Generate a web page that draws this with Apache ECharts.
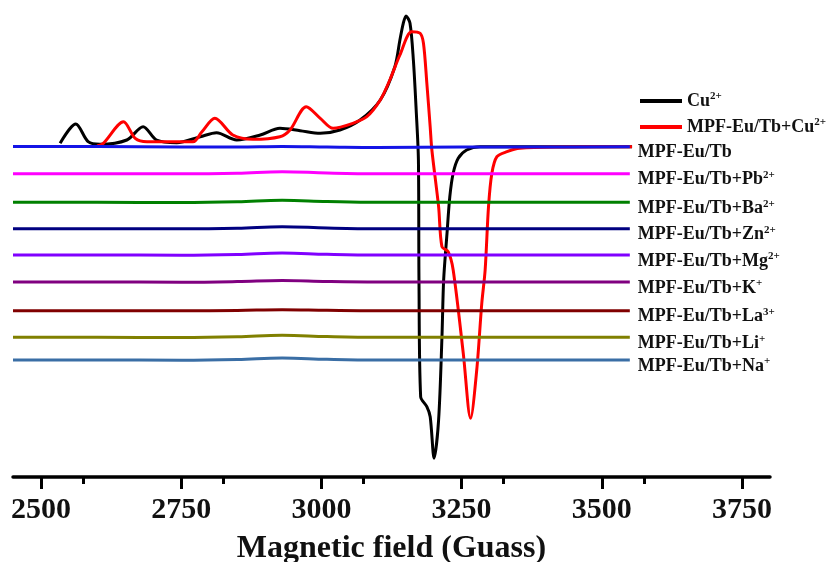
<!DOCTYPE html>
<html>
<head>
<meta charset="utf-8">
<script src="https://cdn.jsdelivr.net/npm/echarts@6/dist/echarts.min.js"></script>
<style>html,body{margin:0;padding:0;background:#fff;}#c{width:829px;height:562px;}</style>
</head>
<body>
<div id="c"></div>
<script>
// ---- Data (x: magnetic field in Gauss, y: stacked EPR intensity, a.u.) ----
var xTicks = [2500, 2750, 3000, 3250, 3500, 3750];

var cuField = [2534, 2562, 2584, 2605, 2653, 2682, 2706, 2742, 2784, 2813, 2849, 2891, 2926, 2962, 2998, 3033, 3069, 3105, 3131, 3140, 3146, 3151, 3158, 3164, 3169, 3173, 3174, 3177, 3188, 3194, 3201, 3209, 3215, 3218, 3224, 3229, 3235, 3244, 3259, 3283, 3350, 3450, 3554];
var cuValue = [333.7, 353, 335.3, 332.7, 337, 350.3, 337, 334.3, 340.3, 344.3, 337, 342, 348.7, 346.3, 343.7, 347, 357, 377, 410.3, 437, 453.7, 461, 453.7, 417, 367, 317, 197, 80.3, 70.3, 60.3, 18.7, 57, 140.3, 197, 243.7, 280.3, 303.7, 318.7, 327, 330.3, 330.3, 330.3, 330.3];

var mpfCuField = [2600, 2611, 2647, 2668, 2689, 2771, 2787, 2810, 2842, 2878, 2926, 2944, 2973, 2998, 3021, 3056, 3081, 3105, 3122, 3140, 3161, 3176, 3182, 3188, 3194, 3197, 3209, 3215, 3226, 3235, 3253, 3266, 3277, 3286, 3292, 3298, 3304, 3313, 3331, 3354, 3426, 3554];
var mpfCuValue = [331, 333.7, 355.3, 338.7, 335.3, 335.3, 345.3, 358.7, 342, 337.7, 340.3, 347, 370.3, 358.7, 348.7, 353.7, 360.3, 377, 397, 422, 445.3, 443.7, 433.7, 394, 350, 327, 270.3, 230.3, 225.3, 207, 123.7, 58.7, 107, 173.7, 207, 270.3, 303.7, 320.3, 325.3, 328.7, 330, 330.3];

var flatField = [2450, 2600, 2750, 2850, 2930, 3010, 3100, 3250, 3400, 3550];
var euTb   = [330.5, 330.5, 330.0, 330.0, 330.5, 330.0, 329.5, 330.0, 330.0, 330.3];
var euTbPb = [303.3, 303.3, 303.2, 303.8, 305.3, 304.0, 303.3, 303.3, 303.3, 303.3];
var euTbBa = [274.7, 274.7, 274.5, 275.2, 276.7, 275.5, 274.7, 274.7, 274.7, 274.7];
var euTbZn = [248.3, 248.3, 248.2, 248.8, 250.3, 249.0, 248.3, 248.3, 248.3, 248.3];
var euTbMg = [222.0, 222.0, 221.8, 222.5, 224.0, 222.7, 222.0, 222.0, 222.0, 222.0];
var euTbK  = [195.0, 195.0, 194.8, 195.4, 196.5, 195.5, 195.0, 195.0, 195.0, 195.0];
var euTbLa = [166.3, 166.3, 166.2, 166.6, 167.3, 166.7, 166.3, 166.3, 166.3, 166.3];
var euTbLi = [139.7, 139.7, 139.5, 140.2, 141.7, 140.4, 139.7, 139.7, 139.7, 139.7];
var euTbNa = [117.0, 117.0, 116.8, 117.5, 119.0, 117.7, 117.0, 117.0, 117.0, 117.0];

// ---- Build ----
function pairs(xs, ys) { return xs.map(function (x, i) { return [x, ys[i]]; }); }
var serif = "'Liberation Serif','Times New Roman',serif";
var rich = {
  n: { fontFamily: serif, fontWeight: 'bold', fontSize: 18, color: '#111', lineHeight: 20 },
  s: { fontFamily: serif, fontWeight: 'bold', fontSize: 11, color: '#111', lineHeight: 11, verticalAlign: 'top' }
};

var flats = [
  { name: 'MPF-Eu/Tb', label: '{n|MPF-Eu/Tb}', data: euTb, color: '#1414e6' },
  { name: 'MPF-Eu/Tb+Pb2+', label: '{n|MPF-Eu/Tb+Pb}{s|2+}', data: euTbPb, color: '#ff00ff' },
  { name: 'MPF-Eu/Tb+Ba2+', label: '{n|MPF-Eu/Tb+Ba}{s|2+}', data: euTbBa, color: '#008000' },
  { name: 'MPF-Eu/Tb+Zn2+', label: '{n|MPF-Eu/Tb+Zn}{s|2+}', data: euTbZn, color: '#000080' },
  { name: 'MPF-Eu/Tb+Mg2+', label: '{n|MPF-Eu/Tb+Mg}{s|2+}', data: euTbMg, color: '#8000ff' },
  { name: 'MPF-Eu/Tb+K+', label: '{n|MPF-Eu/Tb+K}{s|+}', data: euTbK, color: '#800080' },
  { name: 'MPF-Eu/Tb+La3+', label: '{n|MPF-Eu/Tb+La}{s|3+}', data: euTbLa, color: '#800000' },
  { name: 'MPF-Eu/Tb+Li+', label: '{n|MPF-Eu/Tb+Li}{s|+}', data: euTbLi, color: '#808000' },
  { name: 'MPF-Eu/Tb+Na+', label: '{n|MPF-Eu/Tb+Na}{s|+}', data: euTbNa, color: '#3a6ea5' }
];

var series = [
  { name: 'Cu2+', type: 'line', data: pairs(cuField, cuValue), smooth: 0.3, symbol: 'none',
    lineStyle: { color: '#000', width: 3 }, itemStyle: { color: '#000' } },
  { name: 'MPF-Eu/Tb+Cu2+', type: 'line', data: pairs(mpfCuField, mpfCuValue), smooth: 0.3, symbol: 'none',
    lineStyle: { color: '#ff0000', width: 3 }, itemStyle: { color: '#ff0000' } }
];
flats.forEach(function (f) {
  series.push({
    name: f.name, type: 'line', data: pairs(flatField, f.data), smooth: 0.4, symbol: 'none',
    lineStyle: { color: f.color, width: 3 }, itemStyle: { color: f.color },
    endLabel: { show: true, distance: 8, offset: [0, 6], formatter: (function (t) { return function () { return t; }; })(f.label), rich: rich }
  });
});

var chart = echarts.init(document.getElementById('c'), null, { renderer: 'canvas' });
chart.setOption({
  animation: false,
  backgroundColor: '#fff',
  grid: { left: 13, right: 59, top: 10, bottom: 85, containLabel: false, outerBoundsMode: 'none' },
  legend: {
    data: ['Cu2+', 'MPF-Eu/Tb+Cu2+'],
    orient: 'vertical', left: 640, top: 91, itemGap: 7, padding: 0,
    icon: 'rect', itemWidth: 42, itemHeight: 4,
    formatter: function (name) { return name === 'Cu2+' ? '{n|Cu}{s|2+}' : '{n|MPF-Eu/Tb+Cu}{s|2+}'; },
    textStyle: { rich: rich }
  },
  xAxis: {
    type: 'value', min: 2450, max: 3800, interval: 250,
    name: 'Magnetic field (Guass)', nameLocation: 'middle', nameGap: 56,
    nameTextStyle: { fontFamily: serif, fontWeight: 'bold', fontSize: 32, color: '#111' },
    axisLine: { show: true, onZero: false, lineStyle: { color: '#000', width: 3.5 } },
    axisTick: { show: true, length: 12, lineStyle: { color: '#000', width: 3 },
      customValues: xTicks },
    minorTick: { show: true, splitNumber: 2, length: 7, lineStyle: { color: '#000', width: 3 } },
    axisLabel: { fontFamily: serif, fontWeight: 'bold', fontSize: 30, color: '#111', margin: 18,
      customValues: xTicks, formatter: function (v) { return String(v); } },
    splitLine: { show: false }
  },
  yAxis: {
    type: 'value', min: 0, max: 467, show: false, splitLine: { show: false }
  },
  series: series
});
</script>
</body>
</html>
